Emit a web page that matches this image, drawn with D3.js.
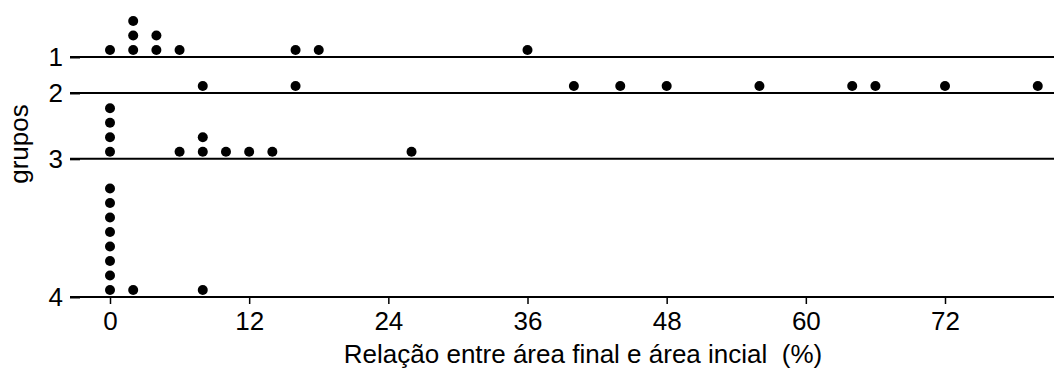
<html>
<head>
  <style>
    body {
      margin: 0;
      background: #ffffff;
    }

    text {
      font-family: "Liberation Sans", Arial, sans-serif;
      fill: #000;
    }
  </style>
</head>

<body>
  <div id="chart"></div>

  <script src="https://d3js.org/d3.v7.min.js"></script>
  <script>
    // groups (labels on the y axis) and where each sits on the y scale
    var groupLabels = ["1", "2", "3", "4"];
    var groupLevels = [1, 2, 3.83, 7.67];

    // values for each group (%)
    var group1 = [0, 2, 2, 2, 4, 4, 6, 16, 18, 36];
    var group2 = [8, 16, 40, 44, 48, 56, 64, 66, 72, 80];
    var group3 = [0, 0, 0, 0, 6, 8, 8, 10, 12, 14, 26];
    var group4 = [0, 0, 0, 0, 0, 0, 0, 0, 2, 8];

    var xTicks = [0, 12, 24, 36, 48, 60, 72];

    var width = 1054,
        height = 369,
        radius = 5,
        stackBase = 7,
        stackStep = 14.5,
        fontSize = 26;

    var svg = d3.select("#chart")
      .append("svg")
      .attr("width", width)
      .attr("height", height);

    var x = d3.scaleLinear()
      .domain([0, 72])
      .range([110, 945]);

    var y = d3.scaleLinear()
      .domain([1, 7.67])
      .range([57, 297]);

    var groups = [group1, group2, group3, group4];

    // stack equal values on top of each other, like stripchart(method = "stack")
    var points = [];
    groups.forEach(function (vals, gi) {
      var seen = {};
      vals.forEach(function (v) {
        var k = seen[v] || 0;
        seen[v] = k + 1;
        points.push({ value: v, level: groupLevels[gi], stack: k });
      });
    });

    // horizontal line for every group
    svg.append("g")
      .selectAll("line")
      .data(groupLevels)
      .enter().append("line")
      .attr("x1", 70)
      .attr("x2", width)
      .attr("y1", function (d) { return y(d); })
      .attr("y2", function (d) { return y(d); })
      .attr("stroke", "#000")
      .attr("stroke-width", 2);

    // x axis
    var xAxis = svg.append("g")
      .attr("transform", "translate(0," + y(groupLevels[3]) + ")")
      .call(d3.axisBottom(x).tickValues(xTicks).tickSize(7).tickPadding(8));
    xAxis.select(".domain").remove();
    xAxis.selectAll("line").attr("stroke-width", 1.5);
    xAxis.selectAll("text").attr("font-size", fontSize);

    // y axis
    var yAxis = svg.append("g")
      .attr("transform", "translate(80,0)")
      .call(d3.axisLeft(y)
        .tickValues(groupLevels)
        .tickFormat(function (d, i) { return groupLabels[i]; })
        .tickSize(10)
        .tickPadding(7));
    yAxis.select(".domain").remove();
    yAxis.selectAll("line").attr("stroke-width", 2);
    yAxis.selectAll("text").attr("font-size", fontSize);

    // dots
    svg.append("g")
      .selectAll("circle")
      .data(points)
      .enter().append("circle")
      .attr("cx", function (d) { return x(d.value); })
      .attr("cy", function (d) { return y(d.level) - stackBase - d.stack * stackStep; })
      .attr("r", radius)
      .attr("fill", "#000");

    // axis titles
    svg.append("text")
      .attr("x", 583)
      .attr("y", 363)
      .attr("text-anchor", "middle")
      .attr("font-size", fontSize)
      .style("white-space", "pre")
      .text("Relação entre área final e área incial  (%)");

    svg.append("text")
      .attr("transform", "translate(28,144) rotate(-90)")
      .attr("text-anchor", "middle")
      .attr("font-size", fontSize)
      .text("grupos");
  </script>
</body>
</html>
